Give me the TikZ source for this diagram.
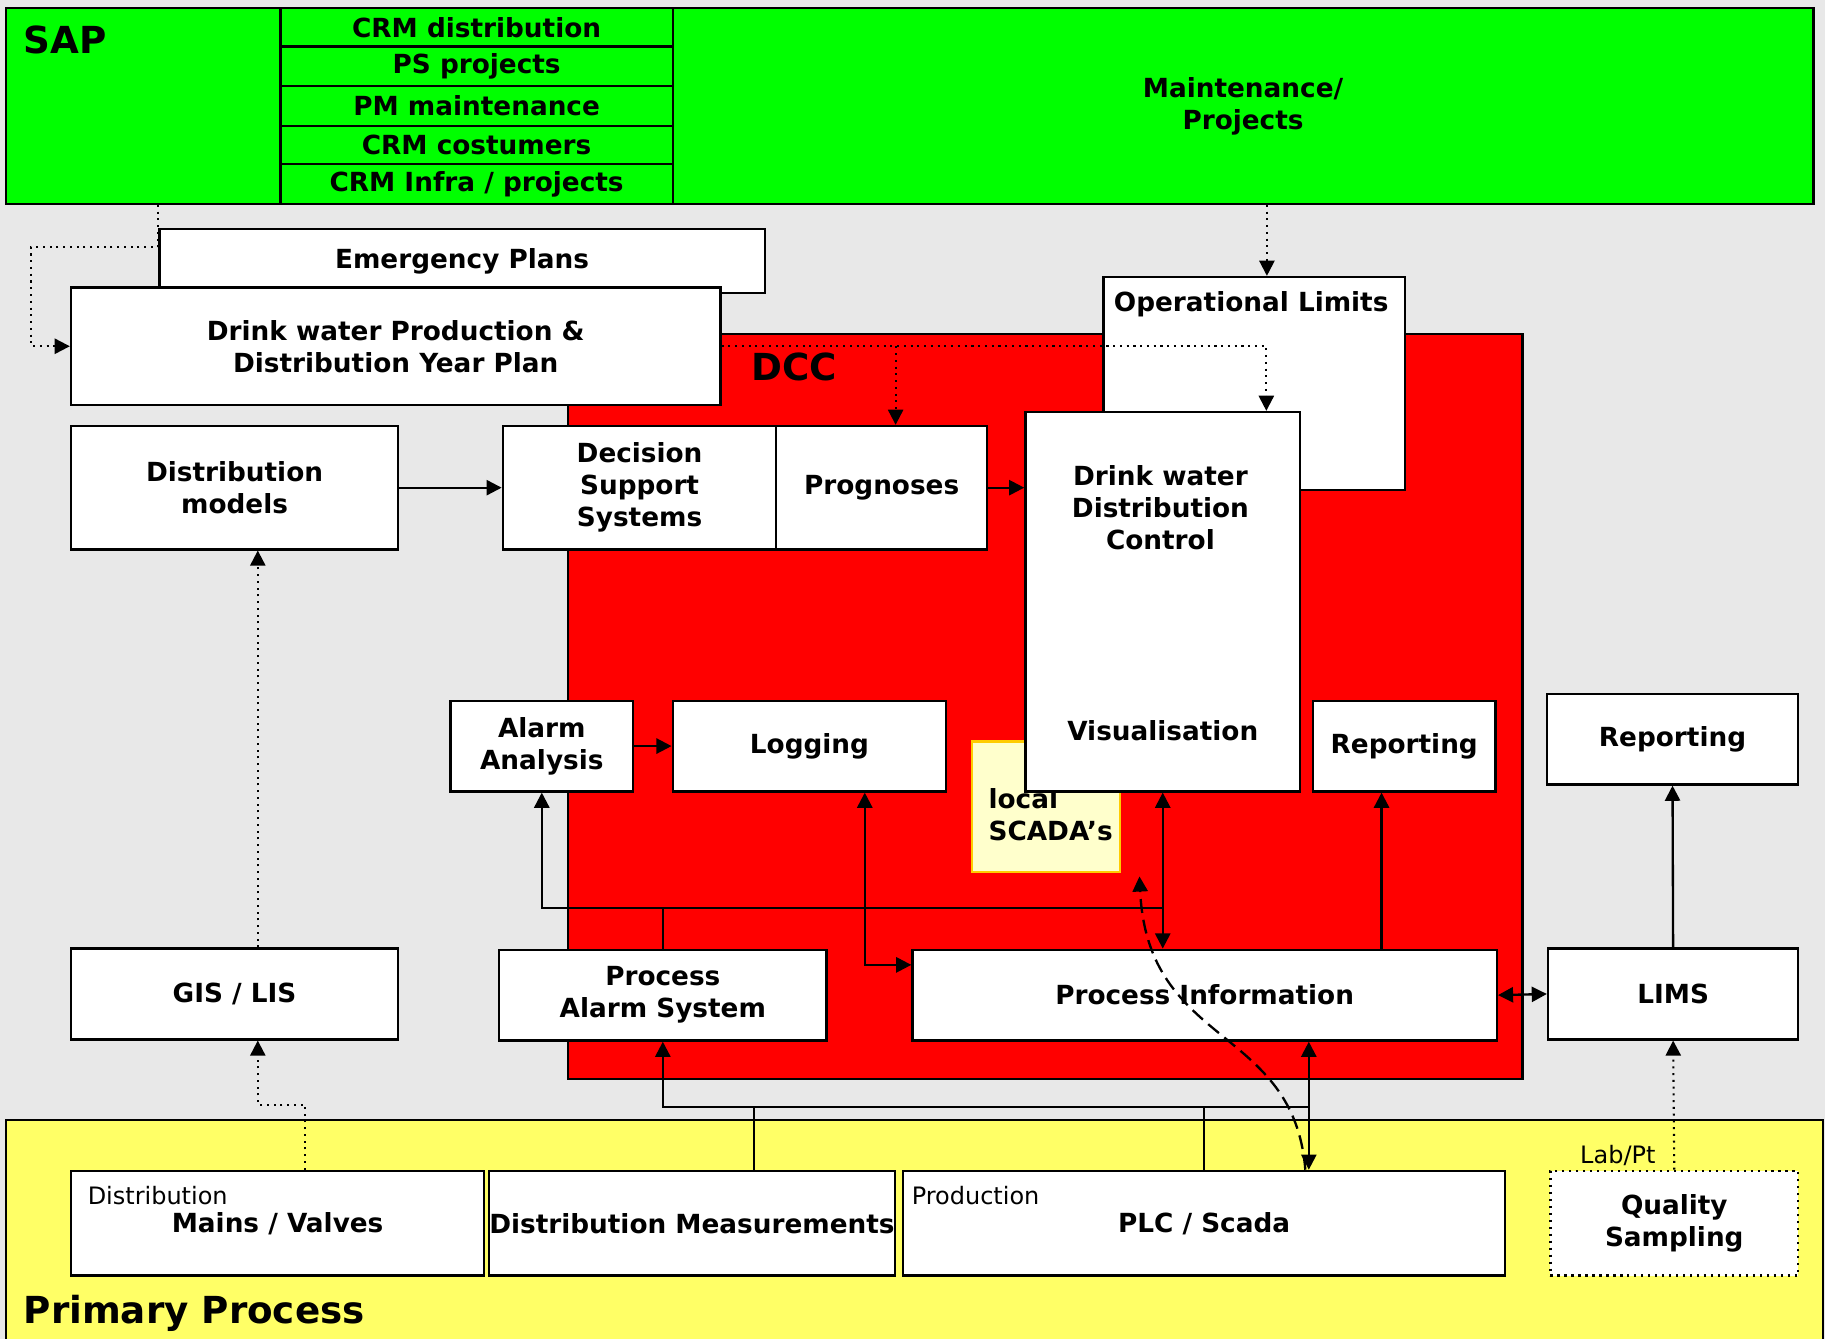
\documentclass[tikz,border=0pt]{standalone}
\usepackage{fontspec}
\setmainfont{DejaVu Sans}
\usetikzlibrary{arrows.meta,calc}
\definecolor{panelgray}{HTML}{E8E8E8}
\definecolor{sapgreen}{HTML}{00FF00}
\definecolor{dccred}{HTML}{FF0000}
\definecolor{primyellow}{HTML}{FFFF66}
\definecolor{scadafill}{HTML}{FFFFCC}
\definecolor{scadaedge}{HTML}{FFCC00}
\tikzset{
  size/.style 2 args={minimum width=#1*0.5pt, minimum height=#2*0.5pt},
  box/.style={draw, fill=white, line width=1pt, inner sep=0pt, align=center,
    font=\fontsize{11.3}{13.8}\selectfont\bfseries},
  txt/.style={inner sep=0pt, align=center, font=\fontsize{11.3}{13.8}\selectfont\bfseries},
  zone/.style={draw, line width=1pt, inner sep=0pt},
  title/.style={inner sep=0pt, anchor=west, font=\fontsize{16}{19}\selectfont\bfseries},
  note/.style={inner sep=0pt, font=\fontsize{10.3}{12}\selectfont},
  conn/.style={draw, line width=1pt},
  dotconn/.style={draw, line width=0.9pt, dotted},
}
\begin{document}
\begin{tikzpicture}[x=0.5pt, y=-0.5pt, >={Triangle[length=6.5pt,width=6.5pt]}]
  \useasboundingbox (0,0) rectangle (1568,1150);
  \fill[panelgray] (0,0) rectangle (1568,1150);
  % zones
  \node[zone, fill=sapgreen, size={1553}{168}] (sap) at (781.5,91) {};
  \node[zone, fill=dccred, size={820}{640}] (dcc) at (898,607) {};
  \node[zone, fill=primyellow, size={1561}{198}] (prim) at (785.5,1061) {};
  \node[title] (saplabel) at (20,34) {SAP};
  \node[title] (dcclabel) at (645,315) {DCC};
  \node[title] (primlabel) at (20,1128) {Primary Process};
  % SAP modules
  \node[box, fill=sapgreen, size={337}{33}] (crmdist) at (409.5,23.5) {CRM distribution};
  \node[box, fill=sapgreen, size={337}{34}] (psproj) at (409.5,57) {PS projects};
  \node[box, fill=sapgreen, size={337}{34}] (pmmaint) at (409.5,91) {PM maintenance};
  \node[box, fill=sapgreen, size={337}{33}] (crmcust) at (409.5,124.5) {CRM costumers};
  \node[box, fill=sapgreen, size={337}{34}] (crminfra) at (409.5,158) {CRM Infra / projects};
  \node[txt] (maint) at (1068,91) {Maintenance/\\Projects};
  % plans
  \node[box, size={520}{55}] (emerg) at (397,224.5) {Emergency Plans};
  \node[box, size={558}{101}] (yearplan) at (340,297.5) {Drink water Production \&\\Distribution Year Plan};
  % DCC
  \node[box, size={281}{106}] (distmod) at (201.5,419) {Distribution\\models};
  \node[box, size={235}{106}] (dss) at (549.5,419) {Decision\\Support\\Systems};
  \node[box, size={181}{106}] (prog) at (757.5,419) {Prognoses};
  \node[box, size={259}{183}] (oplim) at (1077.5,329.5) {};
  \node[txt] (oplimtext) at (1075,261) {Operational Limits};
  \node[draw=scadaedge, fill=scadafill, line width=1pt, size={127}{112}] (scada) at (898.5,693) {};
  \node[txt, align=left, anchor=west] (scadatext) at (849,700) {local\\SCADA’s};
  \node[box, size={236}{326}] (dwdc) at (999,517) {};
  \node[txt] (dwdctext) at (997,436) {Drink water\\Distribution\\Control};
  \node[txt] (vis) at (999,628) {Visualisation};
  \node[box, size={157}{78}] (alarm) at (465.5,641) {Alarm\\Analysis};
  \node[box, size={235}{78}] (logging) at (695.5,641) {Logging};
  \node[box, size={157}{78}] (rep) at (1206.5,641) {Reporting};
  \node[box, size={216}{78}] (labrep) at (1437,635) {Reporting};
  \node[box, size={281}{78}] (gis) at (201.5,854) {GIS / LIS};
  \node[box, size={281}{78}] (pas) at (569.5,855) {Process\\Alarm System};
  \node[box, size={502}{78}] (pinfo) at (1035,855) {Process Information};
  \node[box, size={215}{78}] (lims) at (1437.5,854) {LIMS};
  % primary process
  \node[box, size={355}{90}] (mains) at (238.5,1051) {Mains / Valves};
  \node[box, size={349}{90}] (distmeas) at (594.5,1051) {Distribution Measurements};
  \node[box, size={517}{90}] (plc) at (1034.5,1051) {PLC / Scada};
  \node[box, dotted, size={213}{90}] (quality) at (1438.5,1051) {Quality\\Sampling};
  \node[note, anchor=west] (mainsnote) at (75,1027) {Distribution};
  \node[note, anchor=west] (plcnote) at (783,1027) {Production};
  \node[note] (labnote) at (1390,993) {Lab/Pt};
  % points on the boxes
  \coordinate (oplimin) at ($(oplim.north)+(11,0)$);
  \coordinate (dwdcin) at ($(dwdc.north east)+(-30,0)$);
  \coordinate (progin) at ($(prog.north)+(12,0)$);
  \coordinate (distmodin) at ($(distmod.south)+(20,0)$);
  \coordinate (mainsout) at ($(mains.north)+(23.5,0)$);
  \coordinate (pasup) at ($(pas.north)+(0,-35)$);
  \coordinate (logout) at ($(logging.south)+(47.5,0)$);
  \coordinate (repin) at ($(rep.south)+(-19.5,0)$);
  \coordinate (plcin) at ($(plc.north)+(90,0)$);
  \coordinate (dmout) at ($(distmeas.north)+(53.5,0)$);
  \coordinate (bus) at ($(pas.south)+(0,56)$);
  % dotted links
  \draw[dotconn, ->] (sap.south -| emerg.west) -- ++(0,36) -- ++(-109,0) |- (yearplan.west);
  \draw[dotconn, ->] (oplimin |- sap.south) -- (oplimin);
  \draw[dotconn, ->] (yearplan.east) -| (dwdcin);
  \draw[dotconn, ->] (progin |- yearplan.east) -- (progin);
  \draw[dotconn, ->] (distmodin |- gis.north) -- (distmodin);
  \draw[dotconn, ->] (mainsout) -- ++(0,-56) -| (distmodin |- gis.south);
  \draw[dotconn, ->] (quality.north) -- (lims.south);
  % data links
  \draw[conn, ->] (distmod.east) -- (dss.west);
  \draw[conn, ->] (prog.east) -- (prog.east -| dwdc.west);
  \draw[conn, ->] (alarm.east) -- (logging.west);
  \draw[conn, ->] (pas.north) -- (pasup) -| (alarm.south);
  \draw[conn] (pasup) -- (pasup -| dwdc.south);
  \draw[conn, <->] (dwdc.south) -- (dwdc.south |- pinfo.north);
  \draw[conn, <->] (logout) |- ($(pinfo.west)+(0,-26)$);
  \draw[conn, ->] (repin |- pinfo.north) -- (repin);
  \draw[conn, <->] (pinfo.east) -- (lims.west);
  \draw[conn, ->] (lims.north) -- (labrep.south);
  \draw[conn, <->] (plcin |- pinfo.south) -- (plcin);
  \draw[conn, ->] (bus -| plcin) -| (pas.south);
  \draw[conn] (dmout) -- (dmout |- bus);
  \draw[conn] (plc.north) -- (plc.north |- bus);
  \draw[conn, dash pattern=on 6pt off 3pt, ->] ($(plcin)+(-3,0)$) .. controls +(-10,-125) and +(7,148) .. ($(scada.south east)+(16,3)$);
\end{tikzpicture}
\end{document}
